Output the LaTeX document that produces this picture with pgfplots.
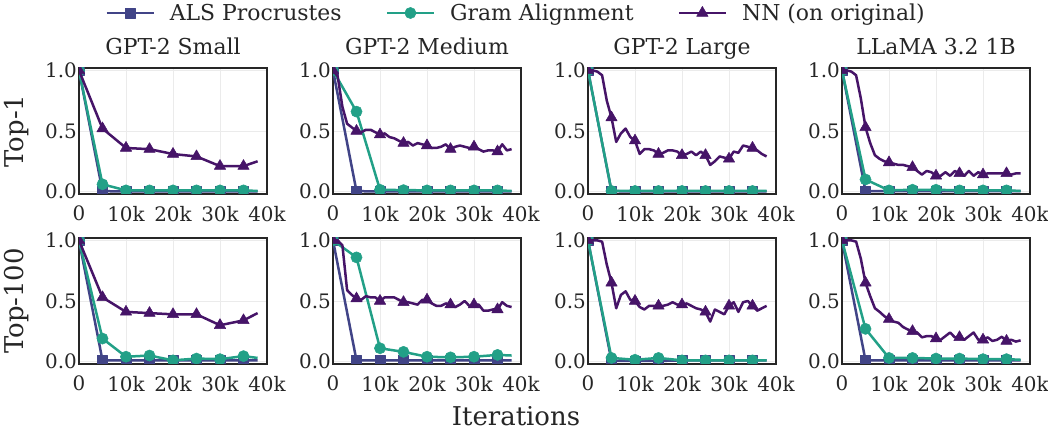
\documentclass[border=0pt]{standalone}
\usepackage{fontspec}
\setmainfont{DejaVu Serif}
\usepackage{pgfplots}
\usepackage{pgfplotstable}
\pgfplotsset{compat=1.18}

\definecolor{alscol}{RGB}{65,68,135}
\definecolor{gramcol}{RGB}{34,160,135}
\definecolor{nncol}{RGB}{70,20,104}
\definecolor{textgray}{RGB}{38,38,38}
\definecolor{gridgray}{RGB}{235,235,235}

% x in thousands of iterations; sparse runs logged every 5k (+ last step)
\pgfplotstableread{
x  alsS  gramS nnS  alsM  gramM alsL  gramL alsLL gramLL
0  1.0   1.0   1.0  1.0   1.0   1.0   1.0   1.0   1.0
5  0.003 0.06  0.52 0.003 0.66  0.003 0.005 0.005 0.10
10 0.002 0.01  0.36 0.002 0.015 0.002 0.005 0.003 0.01
15 0.002 0.01  0.35 0.002 0.012 0.002 0.005 0.003 0.015
20 0.002 0.01  0.31 0.002 0.01  0.002 0.005 0.003 0.015
25 0.002 0.01  0.29 0.002 0.01  0.002 0.005 0.003 0.01
30 0.002 0.01  0.21 0.002 0.01  0.002 0.005 0.003 0.01
35 0.002 0.01  0.21 0.002 0.01  0.002 0.005 0.003 0.01
38 0.002 0.005 0.25 0.002 0.005 0.002 0.005 0.003 0.005
}\topsparse

\pgfplotstableread{
x  alsS  gramS nnS  alsM  gramM alsL  gramL alsLL gramLL
0  1.0   1.0   1.0  1.0   1.0   1.0   1.0   1.0   1.0
5  0.01  0.19  0.53 0.01  0.86  0.005 0.03  0.01  0.27
10 0.01  0.04  0.41 0.01  0.11  0.005 0.015 0.01  0.03
15 0.01  0.05  0.40 0.01  0.08  0.005 0.03  0.01  0.03
20 0.01  0.01  0.39 0.01  0.04  0.01  0.01  0.01  0.025
25 0.01  0.025 0.39 0.01  0.035 0.01  0.01  0.01  0.025
30 0.01  0.02  0.30 0.01  0.04  0.01  0.01  0.01  0.02
35 0.01  0.045 0.34 0.01  0.055 0.01  0.01  0.01  0.02
38 0.01  0.03  0.40 0.01  0.05  0.01  0.01  0.01  0.015
}\botsparse

% NN runs logged every 1k
\pgfplotstableread{
x  M    L    LL
0  1.00 1.00 1.00
1  0.95 1.00 1.00
2  0.70 0.99 0.99
3  0.56 0.96 0.96
4  0.53 0.75 0.77
5  0.50 0.61 0.53
6  0.49 0.41 0.40
7  0.51 0.48 0.30
8  0.51 0.52 0.27
9  0.49 0.45 0.25
10 0.47 0.42 0.24
11 0.48 0.31 0.23
12 0.45 0.35 0.22
13 0.44 0.35 0.22
14 0.42 0.34 0.21
15 0.40 0.31 0.20
16 0.41 0.32 0.17
17 0.38 0.34 0.14
18 0.40 0.34 0.17
19 0.39 0.33 0.16
20 0.38 0.30 0.13
21 0.36 0.31 0.13
22 0.36 0.33 0.16
23 0.37 0.30 0.13
24 0.39 0.33 0.17
25 0.35 0.30 0.15
26 0.37 0.22 0.13
27 0.38 0.25 0.17
28 0.37 0.29 0.13
29 0.36 0.28 0.16
30 0.37 0.27 0.14
31 0.35 0.33 0.15
32 0.33 0.32 0.15
33 0.34 0.38 0.15
34 0.34 0.37 0.15
35 0.33 0.36 0.15
36 0.39 0.34 0.14
37 0.34 0.31 0.15
38 0.35 0.29 0.15
}\topdense

\pgfplotstableread{
x  M    L    LL
0  1.00 1.00 1.00
1  1.00 1.00 1.00
2  0.96 1.00 1.00
3  0.59 0.99 0.99
4  0.55 0.80 0.85
5  0.52 0.65 0.65
6  0.51 0.44 0.54
7  0.54 0.55 0.44
8  0.53 0.58 0.41
9  0.53 0.51 0.375
10 0.50 0.50 0.35
11 0.53 0.45 0.33
12 0.53 0.43 0.32
13 0.53 0.46 0.285
14 0.51 0.46 0.265
15 0.49 0.46 0.25
16 0.49 0.46 0.24
17 0.48 0.47 0.20
18 0.47 0.49 0.21
19 0.51 0.47 0.21
20 0.51 0.47 0.19
21 0.48 0.48 0.18
22 0.46 0.46 0.21
23 0.46 0.44 0.24
24 0.48 0.43 0.20
25 0.47 0.41 0.20
26 0.45 0.33 0.18
27 0.47 0.43 0.21
28 0.50 0.41 0.24
29 0.46 0.39 0.18
30 0.47 0.46 0.18
31 0.47 0.49 0.20
32 0.42 0.41 0.17
33 0.42 0.49 0.18
34 0.43 0.50 0.205
35 0.43 0.46 0.17
36 0.49 0.42 0.18
37 0.46 0.44 0.165
38 0.45 0.46 0.175
}\botdense

\pgfplotsset{
  panel/.style={
    anchor=south west, scale only axis, width=188bp, height=126bp,
    xmin=0, xmax=40, ymin=-0.02, ymax=1.02,
    xtick={0,10,20,30,40}, xticklabels={0,10k,20k,30k,40k},
    ytick={0,0.5,1}, yticklabels={0.0,0.5,1.0},
    grid=major, major grid style={color=gridgray, line width=0.8bp},
    major tick length=0pt, clip marker paths=true,
    axis line style={color=textgray, line width=1.1bp},
    tick label style={font=\fontsize{20}{20}\selectfont, text=textgray},
    xticklabel style={inner ysep=0pt, yshift=-12bp},
    yticklabel style={inner xsep=2bp},
    title style={font=\fontsize{22}{22}\selectfont, text=textgray,
      at={(0.5,1)}, anchor=base, yshift=7.5bp},
    every axis y label/.style={at={(axis description cs:-0.33,0.5)},
      rotate=90, anchor=center, font=\fontsize{26}{26}\selectfont, text=textgray},
    legend image code/.code={
      \draw[mark indices={2},##1] plot coordinates {(0bp,0bp) (23.5bp,0bp) (47bp,0bp)};
      \path (60bp,0bp);},
  },
  ser/.style={line width=2.5bp, line join=round, mark options={line width=0.5bp}},
  als/.style={ser, color=alscol, mark=square*, mark size=4.8bp, mark indices={1,2,3,4,5,6,7,8}},
  gram/.style={ser, color=gramcol, mark=*, mark size=5.6bp, mark indices={1,2,3,4,5,6,7,8}},
  nnsp/.style={ser, color=nncol, mark=triangle*, mark size=6.6bp, mark indices={1,2,3,4,5,6,7,8}},
  nn/.style={ser, color=nncol, mark=triangle*, mark size=6.6bp, mark repeat=5},
}

\begin{document}
\begin{tikzpicture}
\path[use as bounding box] (0,0) rectangle (1048bp,430bp);

% ---- Top-1 ----
\begin{axis}[panel, at={(79bp,236bp)}, title={GPT-2 Small}, ylabel={Top-1},
  legend columns=3,
  legend style={at={(axis description cs:2.3245,1.4365)}, anchor=center,
    draw=none, fill=none, font=\fontsize{22}{22}\selectfont, text=textgray,
    /tikz/every even column/.append style={column sep=42bp}}]
\addplot[als] table[x=x,y=alsS]{\topsparse};
\addplot[gram] table[x=x,y=gramS]{\topsparse};
\addplot[nnsp] table[x=x,y=nnS]{\topsparse};
\legend{ALS Procrustes, Gram Alignment, NN (on original)}
\end{axis}

\begin{axis}[panel, at={(333bp,236bp)}, title={GPT-2 Medium}]
\addplot[als] table[x=x,y=alsM]{\topsparse};
\addplot[gram] table[x=x,y=gramM]{\topsparse};
\addplot[nn] table[x=x,y=M]{\topdense};
\end{axis}

\begin{axis}[panel, at={(588bp,236bp)}, title={GPT-2 Large}]
\addplot[als] table[x=x,y=alsL]{\topsparse};
\addplot[gram] table[x=x,y=gramL]{\topsparse};
\addplot[nn] table[x=x,y=L]{\topdense};
\end{axis}

\begin{axis}[panel, at={(842bp,236bp)}, title={LLaMA 3.2 1B}]
\addplot[als] table[x=x,y=alsLL]{\topsparse};
\addplot[gram] table[x=x,y=gramLL]{\topsparse};
\addplot[nn] table[x=x,y=LL]{\topdense};
\end{axis}

% ---- Top-100 ----
\begin{axis}[panel, at={(79bp,66bp)}, ylabel={Top-100}]
\addplot[als] table[x=x,y=alsS]{\botsparse};
\addplot[gram] table[x=x,y=gramS]{\botsparse};
\addplot[nnsp] table[x=x,y=nnS]{\botsparse};
\end{axis}

\begin{axis}[panel, at={(333bp,66bp)}]
\addplot[als] table[x=x,y=alsM]{\botsparse};
\addplot[gram] table[x=x,y=gramM]{\botsparse};
\addplot[nn] table[x=x,y=M]{\botdense};
\end{axis}

\begin{axis}[panel, at={(588bp,66bp)}]
\addplot[als] table[x=x,y=alsL]{\botsparse};
\addplot[gram] table[x=x,y=gramL]{\botsparse};
\addplot[nn] table[x=x,y=L]{\botdense};
\end{axis}

\begin{axis}[panel, at={(842bp,66bp)}]
\addplot[als] table[x=x,y=alsLL]{\botsparse};
\addplot[gram] table[x=x,y=gramLL]{\botsparse};
\addplot[nn] table[x=x,y=LL]{\botdense};
\end{axis}

\node[anchor=base, font=\fontsize{26}{26}\selectfont, text=textgray] at (516bp,4.5bp) {Iterations};
\end{tikzpicture}
\end{document}
